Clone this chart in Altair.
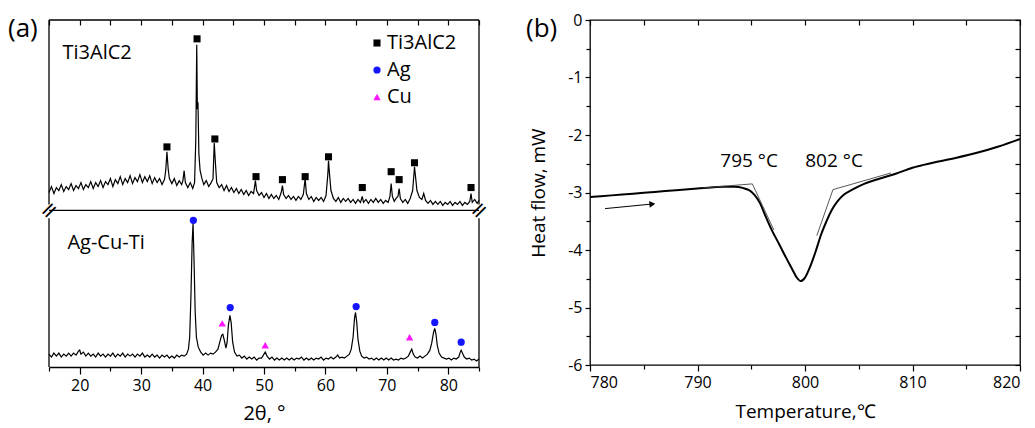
import altair as alt
import pandas as pd

FONT = "Open Sans"

# ---------------- Panel (a): XRD patterns ----------------
# Ti3AlC2 pattern (2theta, intensity in arbitrary units, shifted up above the axis break)
TI_X = [15.0, 15.4, 15.8, 16.2, 16.6, 17.0, 17.4, 17.8, 18.2, 18.6, 19.0, 19.4, 19.8, 20.2, 20.6,
        21.0, 21.4, 21.8, 22.2, 22.6, 23.0, 23.4, 23.8, 24.2, 24.6, 25.0, 25.4, 25.8, 26.2, 26.6,
        27.0, 27.4, 27.8, 28.2, 28.6, 29.0, 29.4, 29.8, 30.2, 30.6, 31.0, 31.4, 31.8, 32.2, 32.6,
        33.0, 33.4, 33.8, 34.0, 34.2, 34.4, 34.6, 35.0, 35.4, 35.8, 36.2, 36.6, 36.8, 37.0, 37.2,
        37.6, 38.0, 38.4, 38.7, 38.9, 39.05, 39.15, 39.25, 39.4, 39.6, 39.9, 40.2, 40.6, 41.0, 41.4,
        41.7, 41.9, 42.1, 42.3, 42.7, 43.1, 43.5, 43.9, 44.3, 44.7, 45.1, 45.5, 45.9, 46.3, 46.7,
        47.1, 47.5, 47.9, 48.3, 48.6, 48.8, 49.2, 49.6, 50.0, 50.4, 50.8, 51.2, 51.6, 52.0, 52.4,
        52.8, 53.0, 53.2, 53.6, 54.0, 54.4, 54.8, 55.2, 55.6, 56.0, 56.4, 56.7, 56.9, 57.3, 57.7,
        58.1, 58.5, 58.9, 59.3, 59.7, 60.1, 60.4, 60.5, 60.7, 60.9, 61.3, 61.7, 62.1, 62.5, 62.9,
        63.3, 63.7, 64.1, 64.5, 64.9, 65.3, 65.7, 66.0, 66.2, 66.6, 67.0, 67.4, 67.8, 68.2, 68.6,
        69.0, 69.4, 69.8, 70.2, 70.5, 70.7, 70.9, 71.2, 71.5, 71.8, 72.0, 72.2, 72.6, 73.0, 73.4,
        73.8, 74.2, 74.5, 74.7, 74.9, 75.3, 75.7, 76.0, 76.3, 76.7, 77.1, 77.5, 77.9, 78.3, 78.7,
        79.1, 79.5, 79.9, 80.3, 80.7, 81.1, 81.5, 81.9, 82.3, 82.7, 83.1, 83.5, 83.7, 83.9, 84.3,
        84.7, 85.0]
TI_Y = [176, 182, 175, 181, 178, 184, 177, 182, 179, 185, 178, 183, 180, 186, 179,
        184, 181, 187, 180, 186, 182, 188, 181, 187, 184, 190, 182, 189, 185, 192,
        184, 190, 186, 193, 185, 191, 187, 194, 186, 192, 187, 193, 185, 191, 186,
        190, 184, 189, 198, 217, 200, 190, 185, 190, 183, 188, 184, 188, 198, 186,
        181, 186, 180, 186, 230, 325, 260, 267, 215, 198, 190, 184, 188, 182, 186,
        190, 226, 205, 186, 181, 184, 178, 183, 177, 181, 176, 180, 175, 179, 174,
        178, 173, 177, 175, 188, 178, 173, 176, 171, 175, 170, 174, 170, 173, 169,
        176, 183, 174, 170, 173, 169, 172, 168, 172, 169, 174, 190, 175, 169, 172,
        167, 171, 168, 171, 167, 173, 195, 208, 192, 178, 170, 167, 171, 166, 170,
        167, 170, 166, 169, 165, 169, 166, 172, 166, 169, 165, 169, 166, 170, 166,
        169, 165, 168, 166, 172, 185, 172, 167, 170, 172, 180, 170, 166, 169, 165,
        170, 178, 202, 190, 178, 171, 169, 175, 168, 165, 168, 164, 167, 164, 167,
        163, 166, 164, 167, 163, 166, 164, 167, 163, 166, 164, 167, 175, 166, 169,
        165, 168]

# Ag-Cu-Ti pattern (below the axis break)
AG_X = [15.0, 15.4, 15.8, 16.2, 16.6, 17.0, 17.4, 17.8, 18.2, 18.6, 19.0, 19.4, 19.8, 20.0, 20.2,
        20.6, 21.0, 21.4, 21.8, 22.2, 22.6, 23.0, 23.4, 23.8, 24.2, 24.6, 25.0, 25.4, 25.8, 26.2,
        26.6, 27.0, 27.4, 27.8, 28.2, 28.6, 29.0, 29.4, 29.8, 30.2, 30.6, 31.0, 31.4, 31.8, 32.2,
        32.6, 33.0, 33.4, 33.8, 34.2, 34.6, 35.0, 35.4, 35.8, 36.2, 36.6, 37.0, 37.4, 37.7, 37.9,
        38.1, 38.3, 38.45, 38.6, 38.8, 39.0, 39.3, 39.7, 40.1, 40.5, 40.9, 41.3, 41.7, 42.1, 42.5,
        42.8, 43.1, 43.3, 43.5, 43.8, 44.0, 44.2, 44.45, 44.65, 44.9, 45.2, 45.6, 46.0, 46.4, 46.8,
        47.2, 47.6, 48.0, 48.4, 48.8, 49.2, 49.6, 49.9, 50.2, 50.5, 50.9, 51.3, 51.7, 52.1, 52.5,
        52.9, 53.3, 53.7, 54.1, 54.5, 54.9, 55.3, 55.7, 56.1, 56.5, 56.9, 57.3, 57.7, 58.1, 58.5,
        58.9, 59.3, 59.7, 60.1, 60.5, 60.9, 61.3, 61.7, 62.0, 62.3, 62.7, 63.1, 63.5, 63.9, 64.2,
        64.5, 64.75, 64.9, 65.1, 65.3, 65.6, 65.9, 66.3, 66.7, 67.1, 67.5, 67.9, 68.3, 68.7, 69.1,
        69.5, 69.9, 70.3, 70.7, 71.1, 71.5, 71.9, 72.3, 72.7, 73.1, 73.5, 73.8, 74.05, 74.3, 74.6,
        75.0, 75.4, 75.8, 76.2, 76.6, 77.0, 77.3, 77.6, 77.8, 78.0, 78.2, 78.5, 78.9, 79.3, 79.7,
        80.1, 80.5, 80.9, 81.3, 81.7, 81.95, 82.1, 82.3, 82.6, 83.0, 83.4, 83.8, 84.2, 84.6, 85.0]
AG_Y = [13, 10, 14, 11, 14, 10, 13, 11, 14, 11, 14, 12, 16, 17, 13,
        15, 11, 14, 11, 13, 10, 14, 11, 13, 10, 13, 11, 14, 10, 13,
        11, 14, 10, 13, 11, 13, 10, 13, 11, 14, 10, 12, 10, 13, 10,
        12, 9, 12, 10, 12, 9, 11, 9, 12, 10, 12, 11, 13, 18, 30,
        70, 125, 145, 110, 55, 30, 20, 15, 12, 14, 12, 14, 13, 15, 18,
        25, 32, 33, 28, 19, 25, 42, 52, 45, 25, 15, 11, 12, 9, 11,
        8, 10, 8, 10, 7, 9, 9, 12, 15, 11, 8, 10, 7, 9, 7,
        9, 7, 9, 7, 9, 7, 9, 8, 10, 7, 9, 7, 9, 7, 9,
        8, 10, 7, 9, 8, 10, 8, 10, 12, 9, 10, 9, 11, 13, 18,
        30, 50, 55, 45, 28, 16, 11, 9, 10, 8, 9, 7, 9, 7, 9,
        7, 9, 7, 9, 7, 8, 7, 9, 8, 9, 11, 15, 18, 13, 10,
        9, 11, 9, 11, 13, 17, 24, 35, 39, 33, 22, 14, 10, 9, 8,
        9, 7, 9, 8, 10, 15, 17, 14, 10, 8, 9, 7, 8, 6, 8]

# Phase markers
TI_MARK_X = [34.2, 39.1, 42.0, 48.7, 53.0, 56.7, 60.5, 66.0, 70.7, 72.0, 74.5, 83.7]
TI_MARK_Y = [222, 331, 230, 192, 189, 192, 212, 181, 197, 189, 206, 181]
AG_MARK_X = [38.5, 44.5, 65.0, 77.8, 82.1]
AG_MARK_Y = [148, 60, 61, 45, 25]
CU_MARK_X = [43.2, 50.2, 73.7]
CU_MARK_Y = [44, 22, 30]

PHASES = ["Ti3AlC2", "Ag", "Cu"]
PHASE_COLORS = ["#000000", "#1515ff", "#ff14ff"]
PHASE_SHAPES = ["square", "circle", "triangle-up"]
PHASE_SIZES = [50, 55, 80]

XA_MIN, XA_MAX = 15, 85
YA_MIN, YA_MAX = 0, 350
BREAK_Y = 158
BREAK_GAP_LO, BREAK_GAP_HI = 150, 164
XA_TICKS = list(range(15, 86, 5))

# ---------------- Panel (b): DSC ----------------
DSC_T = [780, 782, 784, 786, 788, 790, 791.5, 792.5, 793.5, 794.2, 794.8, 795.3, 795.8, 796.3,
         796.9, 797.6, 798.2, 798.8, 799.2, 799.6, 800.0, 800.5, 801.0, 801.5, 802.0, 802.5,
         803.0, 803.6, 804.4, 805.5, 806.9, 808.5, 810, 812, 814, 816, 818, 820]
DSC_HF = [-3.08, -3.05, -3.02, -2.99, -2.96, -2.93, -2.91, -2.90, -2.90, -2.92, -2.96, -3.04,
          -3.18, -3.40, -3.65, -3.90, -4.12, -4.33, -4.47, -4.54, -4.48, -4.28, -4.02, -3.73,
          -3.50, -3.30, -3.16, -3.04, -2.95, -2.85, -2.76, -2.67, -2.57, -2.48, -2.40, -2.31,
          -2.20, -2.07]
TAN_L_T = [790.5, 795.1, 797.1]
TAN_L_HF = [-2.92, -2.85, -3.65]
TAN_R_T = [801.1, 802.6, 808.0]
TAN_R_HF = [-3.75, -2.95, -2.66]
ARROW_T = [781.4, 785.8]
ARROW_HF = [-3.28, -3.20]
ONSET_T = [794.8, 802.7]
ONSET_HF = [-2.46, -2.46]
ONSET_LABELS = ["795 °C", "802 °C"]
XB_TICKS = list(range(780, 821, 5))
YB_TICKS = [v / 2 for v in range(-12, 1)]

W, H_A, H_B = 430, 347, 345

# ======== build panel (a) ========
xs_a = alt.Scale(domain=[XA_MIN, XA_MAX], nice=False, zero=False)
ys_a = alt.Scale(domain=[YA_MIN, YA_MAX], nice=False, zero=False)

pattern_df = pd.concat([
    pd.DataFrame({"tt": TI_X, "I": TI_Y, "sample": "Ti3AlC2"}),
    pd.DataFrame({"tt": AG_X, "I": AG_Y, "sample": "Ag-Cu-Ti"}),
])

x_bottom = alt.Axis(orient="bottom", values=XA_TICKS, title="2θ, °",
                    labelExpr="datum.value % 10 === 0 ? datum.label : ''",
                    tickSize={"condition": {"test": "datum.value % 10 === 0", "value": 7}, "value": 4},
                    domain=True, domainColor="black", domainWidth=1.3, tickColor="black", tickWidth=1.2,
                    labelFont=FONT, labelFontSize=16, labelColor="black", labelPadding=3,
                    titleFont=FONT, titleFontSize=20, titleFontWeight="normal", titleColor="black",
                    titlePadding=10, grid=False)
y_left_a = alt.Axis(orient="left", ticks=False, labels=False, domain=False, grid=False,
                    title="Intensity, cps", titleFont=FONT, titleFontSize=19,
                    titleFontWeight="normal", titleColor="black", titlePadding=14)

lines_a = alt.Chart(pattern_df).mark_line(color="black", strokeWidth=1.2, interpolate="linear").encode(
    x=alt.X("tt:Q", scale=xs_a, axis=x_bottom),
    y=alt.Y("I:Q", scale=ys_a, axis=y_left_a),
    detail="sample:N",
)

top_axis_df = pd.DataFrame({"tt": [XA_MIN, XA_MAX]})
top_axis_a = alt.Chart(top_axis_df).mark_point(opacity=0).encode(
    x=alt.X("tt:Q", scale=xs_a, axis=alt.Axis(orient="top", values=XA_TICKS, labels=False, title=None,
                                               domain=False, tickSize=5, tickColor="black", tickWidth=1.2,
                                               offset=-5, grid=False)),
)

markers_df = pd.concat([
    pd.DataFrame({"tt": TI_MARK_X, "I": TI_MARK_Y, "phase": "Ti3AlC2"}),
    pd.DataFrame({"tt": AG_MARK_X, "I": AG_MARK_Y, "phase": "Ag"}),
    pd.DataFrame({"tt": CU_MARK_X, "I": CU_MARK_Y, "phase": "Cu"}),
])
markers_a = alt.Chart(markers_df).mark_point(filled=True, opacity=1).encode(
    x=alt.X("tt:Q", scale=xs_a, axis=None),
    y=alt.Y("I:Q", scale=ys_a, axis=None),
    color=alt.Color("phase:N", scale=alt.Scale(domain=PHASES, range=PHASE_COLORS),
                    legend=alt.Legend(orient="none", legendX=318, legendY=13, title=None,
                                      labelFont=FONT, labelFontSize=20, labelColor="black",
                                      symbolSize=55, rowPadding=7, labelOffset=0,
                                      symbolStrokeWidth=0)),
    shape=alt.Shape("phase:N", scale=alt.Scale(domain=PHASES, range=PHASE_SHAPES)),
    size=alt.Size("phase:N", scale=alt.Scale(domain=PHASES, range=PHASE_SIZES), legend=None),
)

frame_df = pd.DataFrame({
    "x": [XA_MIN, XA_MIN, XA_MIN, XA_MAX, XA_MAX, XA_MIN],
    "x2": [XA_MAX, XA_MIN, XA_MIN, XA_MAX, XA_MAX, XA_MAX],
    "y": [YA_MAX, YA_MIN, BREAK_GAP_HI, YA_MIN, BREAK_GAP_HI, BREAK_Y],
    "y2": [YA_MAX, BREAK_GAP_LO, YA_MAX, BREAK_GAP_LO, YA_MAX, BREAK_Y],
})
frame_a = alt.Chart(frame_df).mark_rule(color="black", strokeWidth=1.3).encode(
    x=alt.X("x:Q", scale=xs_a, axis=None), x2="x2:Q",
    y=alt.Y("y:Q", scale=ys_a, axis=None), y2="y2:Q",
)

break_df = pd.DataFrame({"x": [XA_MIN, XA_MAX], "y": [BREAK_Y, BREAK_Y], "t": ["=", "="]})
breaks_a = alt.Chart(break_df).mark_text(fontSize=22, angle=315, font="DejaVu Sans", color="black").encode(
    x=alt.X("x:Q", scale=xs_a, axis=None), y=alt.Y("y:Q", scale=ys_a, axis=None), text="t:N")

sample_lab_df = pd.DataFrame({"x": [17.2, 18.0], "y": [317, 125], "t": ["Ti3AlC2", "Ag-Cu-Ti"]})
sample_labels = alt.Chart(sample_lab_df).mark_text(font=FONT, fontSize=20, align="left",
                                                   baseline="middle", color="black").encode(
    x=alt.X("x:Q", scale=xs_a, axis=None), y=alt.Y("y:Q", scale=ys_a, axis=None), text="t:N")

tag_a = alt.Chart(pd.DataFrame({"t": ["(a)"]})).mark_text(
    font=FONT, fontSize=26, align="left", baseline="middle", color="black").encode(
    text="t:N", x=alt.value(-41), y=alt.value(9))

panel_a = alt.layer(lines_a, top_axis_a, frame_a, breaks_a, markers_a, sample_labels, tag_a).resolve_axis(
    x="independent").properties(width=W, height=H_A, view=alt.ViewBackground(stroke=None))

# ======== build panel (b) ========
xs_b = alt.Scale(domain=[780, 820], nice=False, zero=False)
ys_b = alt.Scale(domain=[-6, 0], nice=False, zero=False)

cond_major_x = {"condition": {"test": "datum.value % 10 === 0", "value": 6}, "value": 4}
cond_major_y = {"condition": {"test": "datum.value % 1 === 0", "value": 5}, "value": 4}

x_bottom_b = alt.Axis(orient="bottom", values=XB_TICKS, title="Temperature,℃",
                      labelExpr="datum.value % 10 === 0 ? datum.label : ''",
                      tickSize=cond_major_x, domain=False, tickColor="black", tickWidth=1.2,
                      labelFont=FONT, labelFontSize=16, labelColor="black", labelPadding=3,
                      titleFont=FONT, titleFontSize=19, titleFontWeight="normal", titleColor="black",
                      titlePadding=12, grid=False)
y_left_b = alt.Axis(orient="left", values=YB_TICKS, title="Heat flow, mW",
                    labelExpr="datum.value % 1 === 0 ? toString(datum.value) : ''",
                    tickSize=cond_major_y, domain=False, tickColor="black", tickWidth=1.2,
                    labelFont=FONT, labelFontSize=16, labelColor="black", labelPadding=3,
                    titleFont=FONT, titleFontSize=19, titleFontWeight="normal", titleColor="black",
                    titlePadding=19, grid=False)

dsc_df = pd.DataFrame({"T": DSC_T, "HF": DSC_HF})
curve_b = alt.Chart(dsc_df).mark_line(color="black", strokeWidth=2, interpolate="monotone").encode(
    x=alt.X("T:Q", scale=xs_b, axis=x_bottom_b),
    y=alt.Y("HF:Q", scale=ys_b, axis=y_left_b),
)

mirror_df = pd.DataFrame({"T": [780, 820], "HF": [-6, 0]})
mirror_b = alt.Chart(mirror_df).mark_point(opacity=0).encode(
    x=alt.X("T:Q", scale=xs_b, axis=alt.Axis(orient="top", values=XB_TICKS, labels=False, title=None,
                                             domain=False, tickSize=5, tickColor="black", tickWidth=1.2,
                                             offset=-5, grid=False)),
    y=alt.Y("HF:Q", scale=ys_b, axis=alt.Axis(orient="right", values=YB_TICKS, labels=False, title=None,
                                              domain=False, tickSize=5, tickColor="black", tickWidth=1.2,
                                              offset=-5, grid=False)),
)

tan_df = pd.concat([
    pd.DataFrame({"T": TAN_L_T, "HF": TAN_L_HF, "side": "L"}),
    pd.DataFrame({"T": TAN_R_T, "HF": TAN_R_HF, "side": "R"}),
])
tangents_b = alt.Chart(tan_df).mark_line(color="#444444", strokeWidth=0.9).encode(
    x=alt.X("T:Q", scale=xs_b, axis=None), y=alt.Y("HF:Q", scale=ys_b, axis=None), detail="side:N")

arrow_df = pd.DataFrame({"T": ARROW_T, "HF": ARROW_HF})
arrow_line = alt.Chart(arrow_df).mark_line(color="black", strokeWidth=1).encode(
    x=alt.X("T:Q", scale=xs_b, axis=None), y=alt.Y("HF:Q", scale=ys_b, axis=None))
arrow_head = alt.Chart(arrow_df.tail(1)).mark_point(shape="triangle-right", filled=True, size=45,
                                                    angle=354, color="black", opacity=1).encode(
    x=alt.X("T:Q", scale=xs_b, axis=None), y=alt.Y("HF:Q", scale=ys_b, axis=None))

onset_df = pd.DataFrame({"T": ONSET_T, "HF": ONSET_HF, "t": ONSET_LABELS})
onset_b = alt.Chart(onset_df).mark_text(font=FONT, fontSize=19, color="black", baseline="middle").encode(
    x=alt.X("T:Q", scale=xs_b, axis=None), y=alt.Y("HF:Q", scale=ys_b, axis=None), text="t:N")

tag_b = alt.Chart(pd.DataFrame({"t": ["(b)"]})).mark_text(
    font=FONT, fontSize=26, align="left", baseline="middle", color="black").encode(
    text="t:N", x=alt.value(-64), y=alt.value(9))

panel_b = alt.layer(curve_b, mirror_b, tangents_b, arrow_line, arrow_head, onset_b, tag_b).resolve_axis(
    x="independent", y="independent").properties(
    width=W, height=H_B, view=alt.ViewBackground(stroke="black", strokeWidth=1.3))

chart = alt.hconcat(panel_a, panel_b, spacing=111, bounds="flush").properties(
    padding={"top": 3, "bottom": 3, "left": 0, "right": 0}).configure_view(stroke=None)

chart.save("out.html", embed_options={"renderer": "svg", "actions": False})
